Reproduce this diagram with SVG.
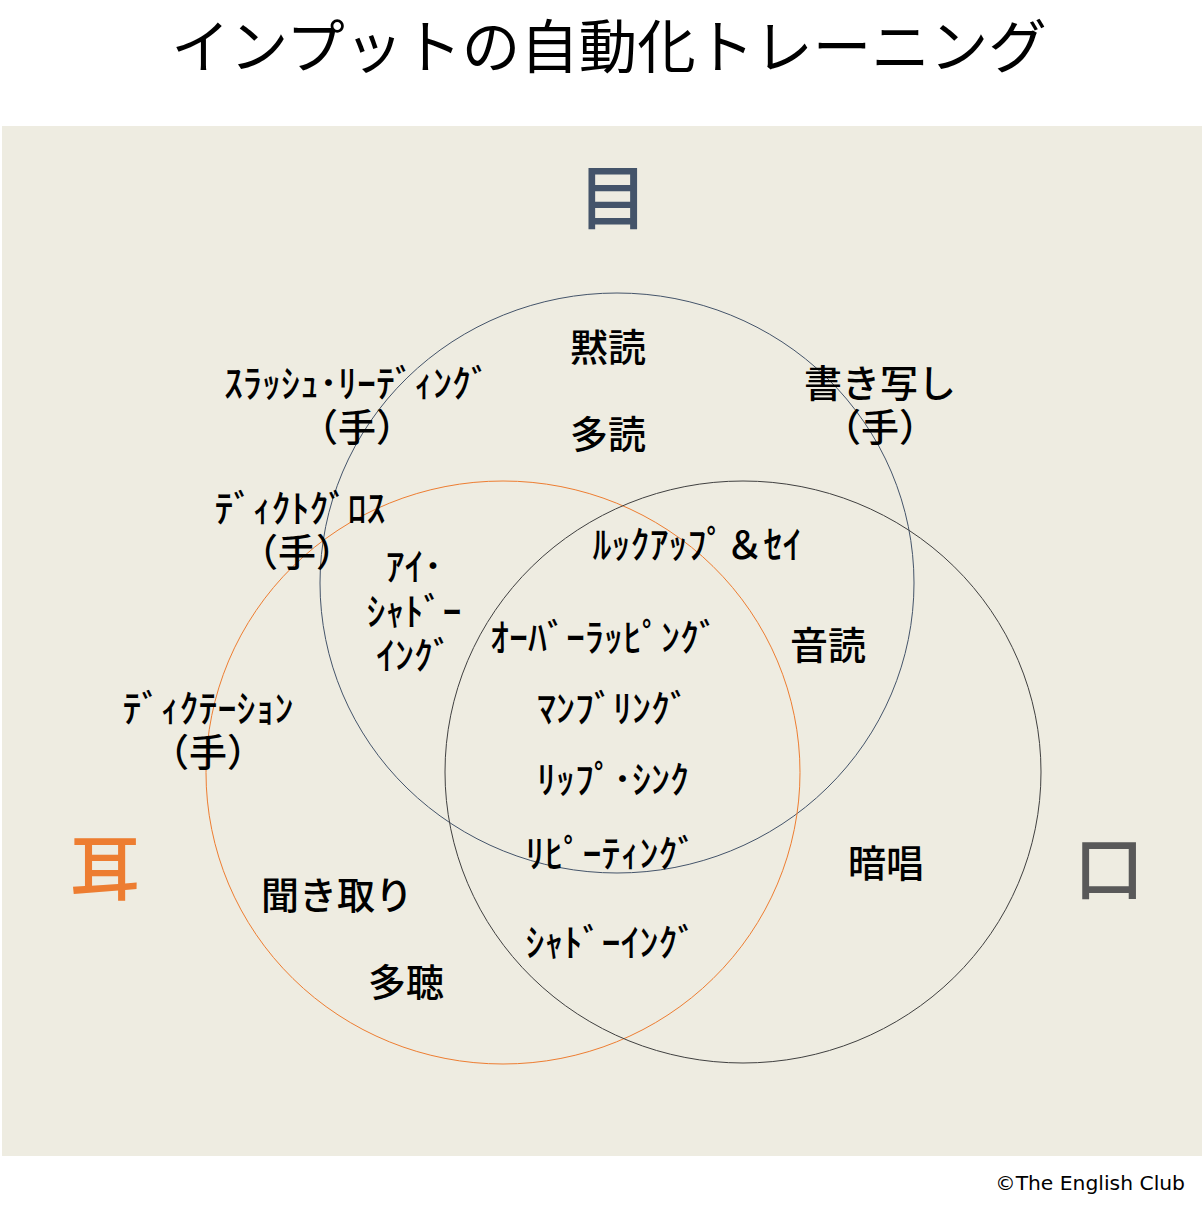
<svg xmlns="http://www.w3.org/2000/svg" width="1204" height="1210" viewBox="0 0 1204 1210">
<style>
text{font-family:"Noto Sans CJK JP","Noto Sans",sans-serif;fill:#000;text-anchor:middle}
.t{font-size:38px;font-weight:500}
.title{font-size:58.5px}
.big{font-size:70px;font-weight:500}
.c{fill:none;stroke-width:1}
</style>
<rect x="0" y="0" width="1204" height="1210" fill="#fff"/>
<rect x="2" y="126" width="1200" height="1030" fill="#EEECE1"/>
<text class="title" x="609" y="68">インプットの自動化トレーニング</text>
<g id="connectors">
<ellipse class="c" cx="617" cy="583" rx="297" ry="290" stroke="#44546A"/>
<ellipse class="c" cx="503" cy="772.5" rx="297" ry="291.5" stroke="#ED7D31"/>
<ellipse class="c" cx="743" cy="772" rx="298" ry="291" stroke="#404040"/>
</g>
<g id="eye"><text class="big" x="613" y="224" style="fill:#44546A">目</text></g>
<g id="ear"><text class="big" x="105" y="895" style="fill:#ED7D31">耳</text></g>
<g id="mouth"><text class="big" x="1109" y="895" style="fill:#595959">口</text></g>
<g id="n1"><text class="t" x="608" y="361">黙読</text></g>
<g id="n2"><text class="t" x="608" y="448">多読</text></g>
<g id="n3"><text class="t" x="357" y="397">ｽﾗｯｼｭ･ﾘｰﾃﾞｨﾝｸﾞ</text><text class="t" x="357" y="441">（手）</text></g>
<g id="n4"><text class="t" x="880" y="397">書き写し</text><text class="t" x="880" y="441">（手）</text></g>
<g id="n5"><text class="t" x="300" y="522">ﾃﾞｨｸﾄｸﾞﾛｽ</text><text class="t" x="297" y="566">（手）</text></g>
<g id="n6"><text class="t" x="414" y="580">ｱｲ･</text><text class="t" x="414" y="625">ｼｬﾄﾞｰ</text><text class="t" x="414" y="669">ｲﾝｸﾞ</text></g>
<g id="n7"><text class="t" x="697" y="558">ﾙｯｸｱｯﾌﾟ＆ｾｲ</text></g>
<g id="n8"><text class="t" x="828" y="659">音読</text></g>
<g id="n9"><text class="t" x="604" y="651">ｵｰﾊﾞｰﾗｯﾋﾟﾝｸﾞ</text></g>
<g id="n10"><text class="t" x="613" y="722">ﾏﾝﾌﾞﾘﾝｸﾞ</text></g>
<g id="n11"><text class="t" x="613" y="793">ﾘｯﾌﾟ･ｼﾝｸ</text></g>
<g id="n12"><text class="t" x="611" y="867">ﾘﾋﾟｰﾃｨﾝｸﾞ</text></g>
<g id="n13"><text class="t" x="611" y="956">ｼｬﾄﾞｰｲﾝｸﾞ</text></g>
<g id="n14"><text class="t" x="208" y="722">ﾃﾞｨｸﾃｰｼｮﾝ</text><text class="t" x="208" y="766">（手）</text></g>
<g id="n15"><text class="t" x="886" y="877">暗唱</text></g>
<g id="n16"><text class="t" x="337" y="909">聞き取り</text></g>
<g id="n17"><text class="t" x="406" y="996">多聴</text></g>
<text x="1185" y="1190" style="font-family:'DejaVu Sans',sans-serif;font-size:20.3px;text-anchor:end">©The English Club</text>
</svg>
